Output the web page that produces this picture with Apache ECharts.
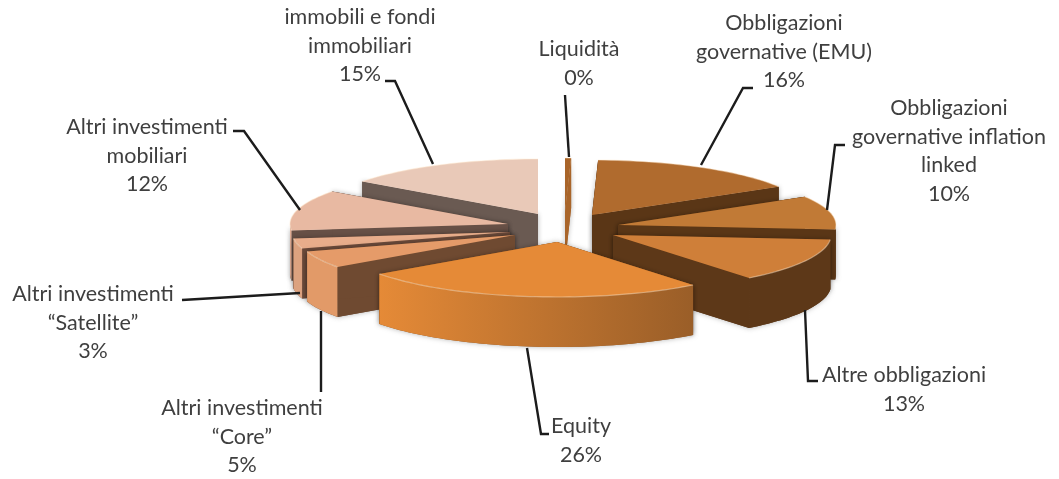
<!DOCTYPE html>
<html>
<head>
<meta charset="utf-8">
<style>
  html, body { margin: 0; padding: 0; background: #fff; }
  #chart { width: 1059px; height: 479px; filter: blur(0.4px); }
</style>
<script src="https://cdn.jsdelivr.net/npm/echarts@6/dist/echarts.min.js"></script>
</head>
<body>
<div id="chart"></div>
<script>
// clockwise from 12 o'clock
const categories = [
  ['Liquidità'],
  ['Obbligazioni', 'governative (EMU)'],
  ['Obbligazioni', 'governative inflation', 'linked'],
  ['Altre obbligazioni'],
  ['Equity'],
  ['Altri investimenti', '“Core”'],
  ['Altri investimenti', '“Satellite”'],
  ['Altri investimenti', 'mobiliari'],
  ['immobili e fondi', 'immobiliari']
]
const values = [0.45, 16, 10, 13, 26, 5, 3, 12, 15]

// styling of the fake 3d pie, same order as categories
const explode = [[0, -12], [27, -10], [53, 0], [48, 10], [-8, 17], [-50, 10], [-55, 7], [-57, -1], [-27, -11]]
const topColors = ['#a9652a', '#b06b2e', '#c17a36', '#cf7f39', '#e58a37', '#e59b69', '#e8ad8b', '#e8b9a2', '#e9c9b8']
const sideColors = ['#a9652a', '#5a3616', '#5a3616', '#5d3818', '#8a5525', '#6f4a31', '#6b4a3a', '#675046', '#6a5a52']
const arcColors = [
  ['#a9652a', '#a9652a'], ['#5a3616', '#5a3616'], ['#5a3616', '#5a3616'], ['#5d3818', '#5d3818'],
  ['#e58a37', '#9a5e28'], ['#e29a68', '#e29a68'], ['#dca27f', '#dca27f'], ['#e2ae95', '#e2ae95'], ['#e2c0ae', '#e2c0ae']
]
const drawOrder = [0, 8, 1, 7, 2, 6, 3, 5, 4]

// label block: centre x, y of first line
const labelPos = [[579, 49], [784, 23], [949, 108], [904, 375], [581, 426], [242, 408], [93, 294], [147, 127], [360, 17]]
const leaders = [
  [[565, 95], [569, 157]],
  [[753, 88], [743, 88], [701, 165]],
  [[845, 145], [835, 145], [827, 210]],
  [[818, 381], [808, 381], [805, 310]],
  [[549, 434], [541, 434], [527, 348]],
  [[321, 392], [321, 311]],
  [[182, 300], [300, 293]],
  [[233, 131], [244, 131], [300, 210]],
  [[385, 81], [395, 81], [433, 164]]
]

const cx = 565, cy = 225, rx = 218, ry = 55, depth = 50
const lineHeight = 28.6
const total = values.reduce((a, b) => a + b, 0)

const angles = []
let acc = 0
values.forEach((v) => {
  angles.push([acc / total * Math.PI * 2, (acc + v) / total * Math.PI * 2])
  acc += v
})

const arcPoints = (i, a0, a1) => {
  const ox = cx + explode[i][0], oy = cy + explode[i][1]
  const steps = Math.max(4, Math.ceil((a1 - a0) / 0.03))
  const pts = []
  for (let s = 0; s <= steps; s++) {
    const a = a0 + (a1 - a0) * s / steps
    pts.push([ox + rx * Math.sin(a), oy - ry * Math.cos(a)])
  }
  return pts
}

const down = (pts) => pts.map((p) => [p[0], p[1] + depth])

const renderSlice = (params, api) => {
  const i = api.value(0)
  const [a0, a1] = angles[i]
  const arc = arcPoints(i, a0, a1)
  const apex = [cx + explode[i][0], cy + explode[i][1]]
  const first = arc[0], last = arc[arc.length - 1]
  const walls = [
    { points: [apex, first].concat(down([first, apex])), fill: sideColors[i] },
    { points: [apex, last].concat(down([last, apex])), fill: sideColors[i] }
  ]
  // only the front half of the rim is ever seen
  const w0 = Math.max(a0, Math.PI / 2), w1 = Math.min(a1, Math.PI * 1.5)
  if (w1 > w0) {
    const rim = arcPoints(i, w0, w1)
    walls.push({
      points: rim.concat(down(rim).reverse()),
      fill: new echarts.graphic.LinearGradient(0, 0, 1, 0, [
        { offset: 0, color: arcColors[i][0] },
        { offset: 1, color: arcColors[i][1] }
      ])
    })
  }
  const children = []
  // shadow pass first so it only falls on slices behind this one
  walls.forEach((w) => {
    children.push({
      type: 'polygon',
      shape: { points: w.points },
      style: { fill: sideColors[i], shadowBlur: 5, shadowColor: 'rgba(0,0,0,0.3)' }
    })
  })
  walls.forEach((w) => {
    children.push({ type: 'polygon', shape: { points: w.points }, style: { fill: w.fill } })
  })
  children.push(
    { type: 'polygon', shape: { points: [apex].concat(arc) }, style: { fill: topColors[i] } },
    {
      type: 'polyline',
      shape: { points: arc },
      style: { fill: null, stroke: 'rgba(255,235,210,0.45)', lineWidth: 1.2 }
    }
  )
  return { type: 'group', children }
}

const renderLabel = (params, api) => {
  const i = api.value(0)
  const lines = categories[i].concat(Math.round(values[i]) + '%')
  const children = [{
    type: 'polyline',
    shape: { points: leaders[i] },
    style: { fill: null, stroke: '#1c1c1c', lineWidth: 2.4 }
  }]
  lines.forEach((text, n) => {
    children.push({
      type: 'text',
      style: {
        text,
        x: labelPos[i][0],
        y: labelPos[i][1] + n * lineHeight,
        align: 'center',
        verticalAlign: 'middle',
        font: '21.5px Lato',
        fill: '#3f3f3f'
      }
    })
  })
  return { type: 'group', children }
}

const myChart = echarts.init(document.getElementById('chart'), null, { renderer: 'canvas' })
myChart.setOption({
  animation: false,
  backgroundColor: '#fff',
  series: [
    {
      type: 'custom',
      coordinateSystem: 'none',
      silent: true,
      renderItem: renderSlice,
      data: drawOrder.map((i) => [i])
    },
    {
      type: 'custom',
      coordinateSystem: 'none',
      silent: true,
      renderItem: renderLabel,
      data: categories.map((c, i) => [i])
    }
  ]
})
</script>
</body>
</html>
